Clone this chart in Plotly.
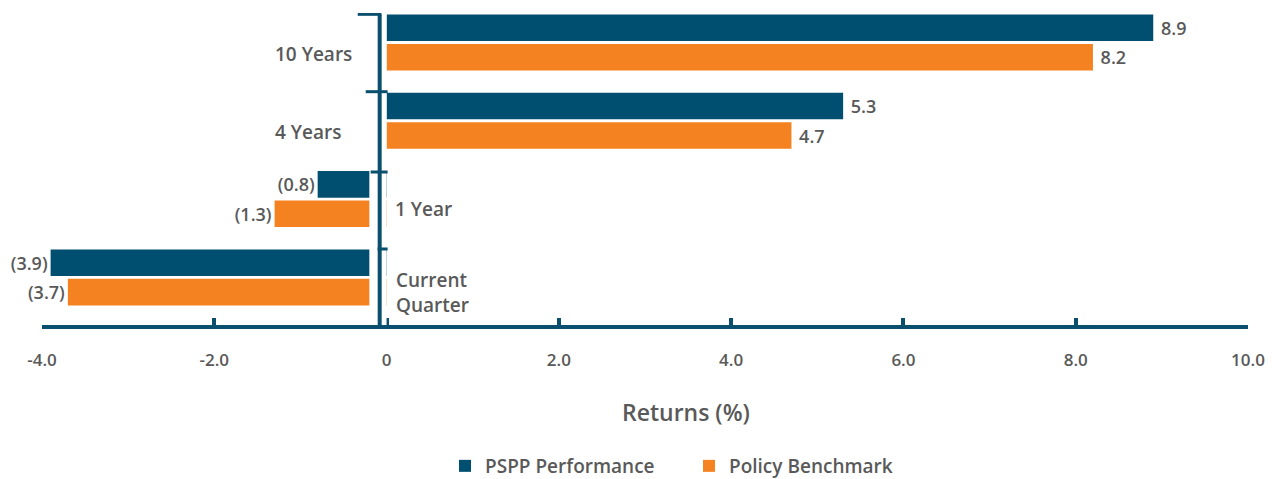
import plotly.graph_objects as go

# ---- data ----
categories = ["Current Quarter", "1 Year", "4 Years", "10 Years"]
pspp_values = [-3.9, -0.8, 5.3, 8.9]
benchmark_values = [-3.7, -1.3, 4.7, 8.2]
x_tick_values = [-4, -2, 0, 2, 4, 6, 8, 10]
x_tick_labels = ["-4.0", "-2.0", "0", "2.0", "4.0", "6.0", "8.0", "10.0"]

BLUE = "#004f71"
ORANGE = "#f58220"
AXIS = "#0b4f6e"
GRAY = "#595959"
FONT = "Open Sans"
NB = "\u00a0"

# page body has an 8px margin -> figure drawn offset by 8px
W, H = 1267, 471
PLOT_TOP, PLOT_BOT = 5, 317  # figure pixels
PLOT_L, PLOT_R = 34, 1240    # figure pixels


def fmt(v):
    if v < 0:
        return f"({abs(v):.1f})"
    return f"{NB}{v:.1f}"


fig = go.Figure()
fig.add_trace(go.Bar(
    y=categories, x=benchmark_values, orientation="h", name="Policy Benchmark",
    marker=dict(color=ORANGE, line=dict(width=0)),
    text=[fmt(v) for v in benchmark_values], textposition="outside",
    textfont=dict(family=FONT, size=18, color=GRAY, weight=600),
    cliponaxis=False, legendrank=2,
))
fig.add_trace(go.Bar(
    y=categories, x=pspp_values, orientation="h", name="PSPP Performance",
    marker=dict(color=BLUE, line=dict(width=0)),
    text=[fmt(v) for v in pspp_values], textposition="outside",
    textfont=dict(family=FONT, size=18, color=GRAY, weight=600),
    cliponaxis=False, legendrank=1,
))

y_top, y_bot = 3.377, -0.608

shapes = [
    # gap between negative bars and zero
    dict(type="rect", xref="x", yref="y", x0=-0.2, x1=0.0, y0=y_bot, y1=y_top,
         fillcolor="white", line=dict(width=0), layer="above"),
    # vertical axis line
    dict(type="line", xref="x", yref="y", x0=-0.08, x1=-0.08, y0=y_bot - 0.03, y1=y_top - 0.02,
         line=dict(color=AXIS, width=4), layer="above"),
    # category dividers on vertical axis
    dict(type="line", xref="x", yref="y", x0=-0.335, x1=-0.06, y0=3.36, y1=3.36,
         line=dict(color=AXIS, width=3), layer="above"),
    dict(type="line", xref="x", yref="y", x0=-0.242, x1=0.012, y0=2.372, y1=2.372,
         line=dict(color=AXIS, width=3), layer="above"),
    dict(type="line", xref="x", yref="y", x0=-0.185, x1=0.012, y0=1.346, y1=1.346,
         line=dict(color=AXIS, width=3), layer="above"),
    dict(type="line", xref="x", yref="y", x0=-0.104, x1=0.012, y0=0.363, y1=0.363,
         line=dict(color=AXIS, width=3), layer="above"),
]

cat_font = dict(family=FONT, size=19, color=GRAY, weight=600)
annotations = [
    dict(text="10 Years", x=-1.32, y=3 - 0.15, xref="x", yref="y", xanchor="left",
         showarrow=False, font=cat_font),
    dict(text="4 Years", x=-1.32, y=2 - 0.14, xref="x", yref="y", xanchor="left",
         showarrow=False, font=cat_font),
    dict(text="1 Year", x=0.08, y=1 - 0.12, xref="x", yref="y", xanchor="left",
         showarrow=False, font=cat_font),
    dict(text="Current<br>Quarter", x=0.09, y=0 - 0.19, xref="x", yref="y", xanchor="left",
         align="left", showarrow=False, font=cat_font),
    dict(text="Returns (%)", x=(686 - 8 - PLOT_L) / (PLOT_R - PLOT_L), y=(325 - 412) / 312,
         xref="paper", yref="paper",
         xanchor="center", yanchor="middle", showarrow=False,
         font=dict(family=FONT, size=23, color=GRAY, weight=600)),
]

fig.update_layout(
    width=W, height=H,
    margin=dict(l=PLOT_L, r=W - PLOT_R, t=PLOT_TOP, b=H - PLOT_BOT),
    paper_bgcolor="white", plot_bgcolor="white",
    barmode="group", bargap=0.247, bargroupgap=0.1,
    showlegend=True,
    legend=dict(orientation="h", x=(445 - 8 - PLOT_L) / (PLOT_R - PLOT_L), xanchor="left",
                y=1 - 458 / H, yref="container", yanchor="middle",
                font=dict(family=FONT, size=19, color=GRAY, weight=600),
                entrywidth=199, itemsizing="constant"),
    xaxis=dict(range=[-4, 10], tickvals=x_tick_values, ticktext=x_tick_labels,
               showgrid=False, zeroline=False, showline=True, linecolor=AXIS,
               linewidth=4, ticks="inside", ticklen=7, tickwidth=4, tickcolor=AXIS,
               ticklabelstandoff=17,
               tickfont=dict(family=FONT, size=17, color=GRAY, weight=600)),
    yaxis=dict(type="category", categoryorder="array", categoryarray=categories,
               range=[y_bot, y_top], showticklabels=False, showgrid=False,
               zeroline=False, showline=False, ticks=""),
    shapes=shapes, annotations=annotations,
    uniformtext=dict(mode=False),
)

fig.write_html("out.html")
